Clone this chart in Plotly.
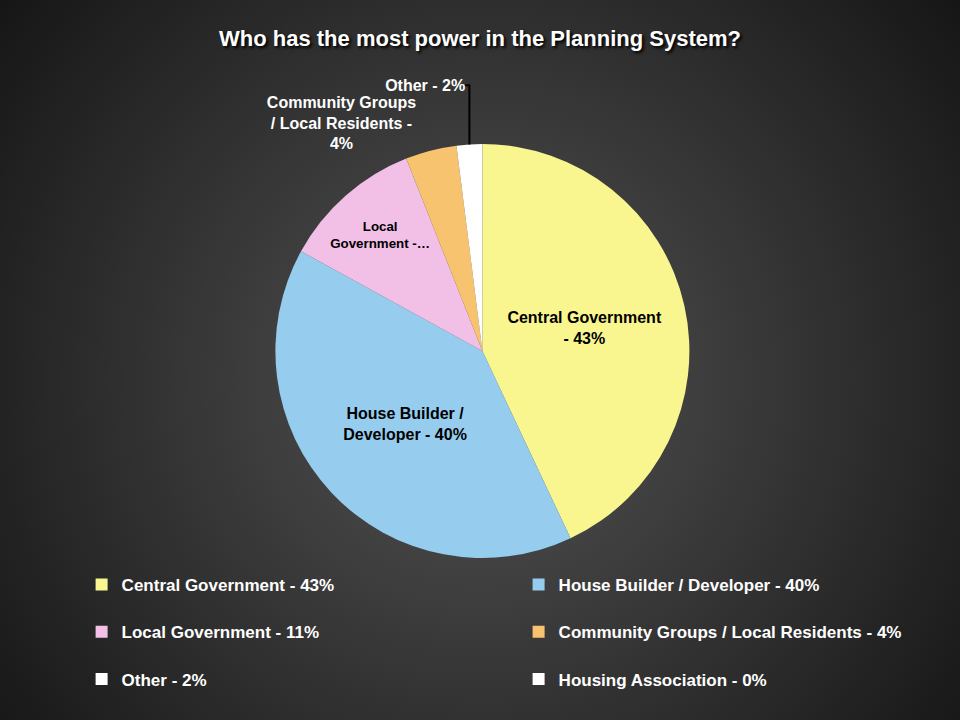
import base64
import plotly.graph_objects as go

# ---- data ----
categories = [
    "Central Government - 43%",
    "House Builder / Developer - 40%",
    "Local Government - 11%",
    "Community Groups / Local Residents - 4%",
    "Other - 2%",
    "Housing Association - 0%",
]
values = [43, 40, 11, 4, 2, 0]
slice_labels = [
    "Central Government<br>- 43%",
    "House Builder /<br>Developer - 40%",
    "Local<br>Government -…",
    "Community Groups<br>/ Local Residents -<br>4%",
    "Other - 2%",
    "",
]
colors = ["#FAF68F", "#96CDEF", "#F2BFE6", "#F8C36E", "#FFFFFF", "#FFFFFF"]
text_pos = ["inside", "inside", "inside", "outside", "outside", "none"]
text_colors = ["#000000", "#000000", "#000000", "#FFFFFF", "#FFFFFF", "#FFFFFF"]

# legend entries get an empty second line so rows are spaced like the original
legend_labels = [c + "<br>&nbsp;" for c in categories]

# ---- background gradient (style only) ----
svg = """<svg xmlns='http://www.w3.org/2000/svg' width='960' height='720' viewBox='0 0 960 720' preserveAspectRatio='none'>
<defs><radialGradient id='g' gradientUnits='userSpaceOnUse' cx='480' cy='380' r='620'>
<stop offset='0%' stop-color='#545454'/>
<stop offset='100%' stop-color='#151515'/>
</radialGradient></defs>
<rect width='960' height='720' fill='url(#g)'/></svg>"""
bg_src = "data:image/svg+xml;base64," + base64.b64encode(svg.encode()).decode()

font_family = "Liberation Sans, Arial, sans-serif"

fig = go.Figure(
    go.Pie(
        labels=legend_labels,
        values=values,
        text=slice_labels,
        customdata=categories,
        texttemplate="%{text}",
        hovertemplate="%{customdata}<extra></extra>",
        textposition=text_pos,
        insidetextorientation="horizontal",
        textfont=dict(color=text_colors, size=16, family=font_family, weight="bold"),
        marker=dict(colors=colors, line=dict(width=0)),
        sort=False,
        direction="clockwise",
        rotation=0,
        automargin=False,
        domain=dict(x=[0.05, 0.955], y=[0.225, 0.80]),
    )
)

fig.update_layout(
    width=960,
    height=720,
    margin=dict(l=0, r=0, t=0, b=0),
    paper_bgcolor="#333333",
    plot_bgcolor="#333333",
    title=dict(
        text="Who has the most power in the Planning System?",
        x=0.5, xanchor="center", y=0.947, yanchor="middle",
        font=dict(color="#FFFFFF", size=22, family=font_family, weight="bold",
                  shadow="2px 2px 3px #000000"),
    ),
    legend=dict(
        orientation="h",
        x=0.085, xanchor="left",
        y=0.2125, yanchor="top",
        entrywidth=392, entrywidthmode="pixels",
        valign="top",
        font=dict(color="#FFFFFF", size=17, family=font_family, weight="bold"),
        bgcolor="rgba(0,0,0,0)",
        itemclick=False,
        itemdoubleclick=False,
    ),
    images=[dict(
        source=bg_src, xref="paper", yref="paper", x=0, y=1,
        sizex=1, sizey=1, xanchor="left", yanchor="top",
        sizing="stretch", layer="below",
    )],
)

page_style = "document.body.style.margin='0'; document.body.style.background='#1a1a1a';"
fig.write_html("out.html", post_script=page_style, config={"displayModeBar": False})
